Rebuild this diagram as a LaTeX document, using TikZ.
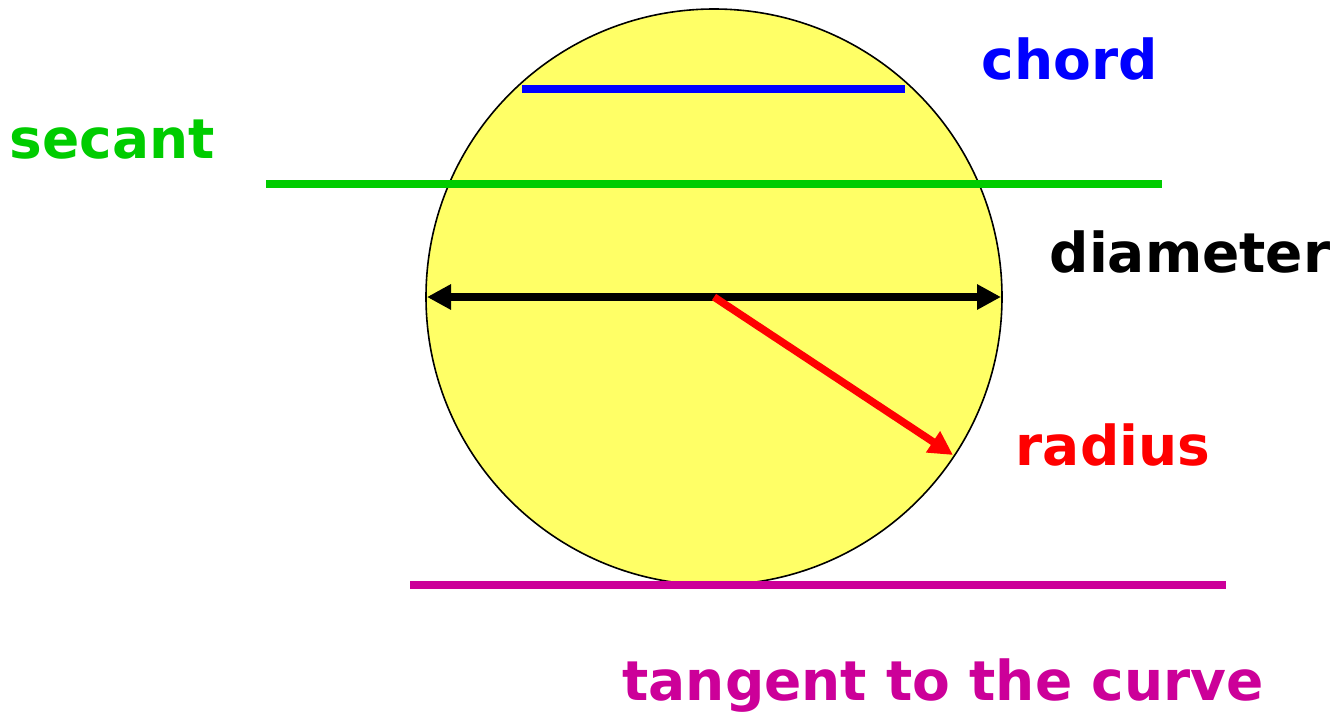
\documentclass[tikz,border=0pt]{standalone}
\usepackage{fontspec}
\setmainfont{DejaVu Sans}
\usetikzlibrary{arrows.meta}
\definecolor{cyellow}{RGB}{255,255,102}
\definecolor{cblue}{RGB}{0,0,255}
\definecolor{cgreen}{RGB}{0,204,0}
\definecolor{cred}{RGB}{255,0,0}
\definecolor{cmag}{RGB}{204,0,153}
\begin{document}
\begin{tikzpicture}[x=1pt,y=-1pt,
  lbl/.style={font=\fontsize{55}{55}\selectfont\bfseries, inner sep=0pt, anchor=center},
  seg/.style={line width=7.5pt},
  tip/.style={-{Triangle[length=24pt,width=24pt]}}]
\useasboundingbox (0,0) rectangle (1330,721);
\coordinate (O) at (714,297);
\fill[cyellow] (O) circle (288);
\draw[line width=1.6pt] (O) circle (288);
% chord
\coordinate (ch1) at (522,89); \coordinate (ch2) at (905,89);
\draw[seg,cblue] (ch1) -- (ch2);
% secant
\coordinate (se1) at (266,184); \coordinate (se2) at (1162,184);
\draw[seg,cgreen] (se1) -- (se2);
% diameter
\coordinate (d1) at (427,297); \coordinate (d2) at (1001,297);
\draw[seg,black,{Triangle[length=24pt,width=24pt]}-{Triangle[length=24pt,width=24pt]}] (d1) -- (d2);
% radius
\coordinate (r2) at (953,455);
\draw[seg,cred,tip] (O) -- (r2);
% tangent
\coordinate (t1) at (410,585); \coordinate (t2) at (1226,585);
\draw[seg,cmag] (t1) -- (t2);
% labels
\node[lbl,cblue] (lchord) at (1070,59) {chord};
\node[lbl,cgreen] (lsec) at (112,140) {secant};
\node[lbl,black] (ldiam) at (1190,252) {diameter};
\node[lbl,cred] (lrad) at (1113,445) {radius};
\node[lbl,cmag] (ltan) at (943,686) {tangent to the curve};
\end{tikzpicture}
\end{document}
